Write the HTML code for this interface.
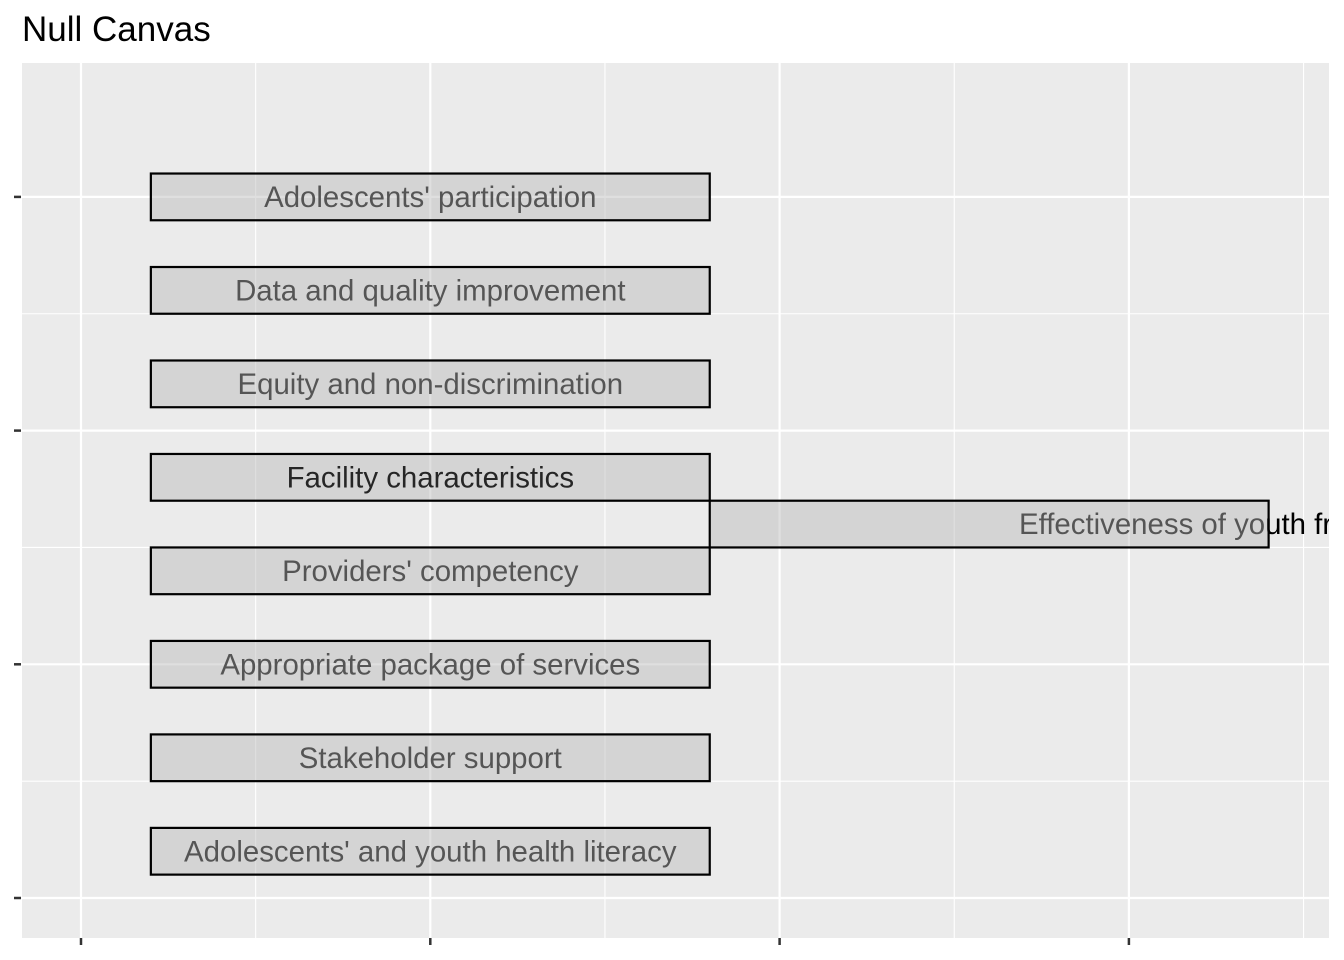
<!DOCTYPE html>
<html><head><meta charset="utf-8"><style>body{margin:0;background:#fff}svg{display:block}</style></head>
<body>
<svg id="c" width="1344" height="960" font-family="Liberation Sans, sans-serif">
<text x="22" y="41" font-size="35" fill="#000">Null Canvas</text>
<defs><clipPath id="pc"><rect x="22" y="63" width="1307" height="875"/></clipPath></defs>
<rect x="22" y="63" width="1307" height="875" fill="#ebebeb"/>
<g id="grid"></g>
<g id="marks" clip-path="url(#pc)"></g>
<g id="ticks"></g>
</svg>
<script>
const labels=["Adolescents' participation","Data and quality improvement","Equity and non-discrimination","Facility characteristics","Effectiveness of youth friendly services","Providers' competency","Appropriate package of services","Stakeholder support","Adolescents' and youth health literacy"];
const xStart=[0.2,0.2,0.2,0.2,1.8,0.2,0.2,0.2,0.2];
const xEnd=[1.8,1.8,1.8,1.8,3.4,1.8,1.8,1.8,1.8];
const yCenter=[3.0,2.6,2.2,1.8,1.6,1.4,1.0,0.6,0.2];
const xTicks=[0,1,2,3];
const yTicks=[0,1,2,3];
const X=v=>81+v*349.3, Y=v=>898-v*233.7;
const NS="http://www.w3.org/2000/svg";
function mk(t,a,p){const e=document.createElementNS(NS,t);for(const k in a)e.setAttribute(k,a[k]);p.appendChild(e);return e;}
const grid=document.getElementById('grid'),marks=document.getElementById('marks'),ticks=document.getElementById('ticks');
for(let i=0;i<xTicks.length;i++){const x=X(xTicks[i]);
 const l=mk('line',{x1:x,x2:x,y1:63,y2:938,stroke:'#fff','stroke-width':2.2},grid);
 
 const m=X(xTicks[i]+0.5); if(m<1329){const l2=mk('line',{x1:m,x2:m,y1:63,y2:938,stroke:'#fff','stroke-width':1.1},grid);
 }
 const t=mk('line',{x1:x,x2:x,y1:938,y2:945,stroke:'#333','stroke-width':2.5},ticks);
 }
for(let i=0;i<yTicks.length;i++){const y=Y(yTicks[i]);
 const l=mk('line',{x1:22,x2:1329,y1:y,y2:y,stroke:'#fff','stroke-width':2.2},grid);
 
 if(i<yTicks.length-1){const m=Y(yTicks[i]+0.5);const l2=mk('line',{x1:22,x2:1329,y1:m,y2:m,stroke:'#fff','stroke-width':1.1},grid);
 }
 const t=mk('line',{x1:14,x2:21,y1:y,y2:y,stroke:'#333','stroke-width':2.5},ticks);
 }
const h=0.2*233.7;
for(let i=0;i<labels.length;i++){
 if(i==3) continue;
 const x0=X(xStart[i]),x1=X(xEnd[i]),cy=Y(yCenter[i]),cx=(x0+x1)/2;
 const t=mk('text',{x:(i==4?1019:cx),y:cy+10,'font-size':29.4,'text-anchor':(i==4?'start':'middle'),fill:'#000'},marks);
 t.textContent=labels[i];
 
}
for(let i=0;i<labels.length;i++){
 const x0=X(xStart[i]),x1=X(xEnd[i]),cy=Y(yCenter[i]);
 const r=mk('rect',{x:x0,y:cy-h/2,width:x1-x0,height:h,fill:'rgba(185,185,185,0.46)',stroke:'#000','stroke-width':2.2},marks);
 
}
{const i=3;const cx=(X(xStart[i])+X(xEnd[i]))/2,cy=Y(yCenter[i]);
 const t=mk('text',{x:cx,y:cy+10,'font-size':29.4,'text-anchor':'middle',fill:'#262626'},marks);
 t.textContent=labels[i];
 }
</script>
</body></html>
